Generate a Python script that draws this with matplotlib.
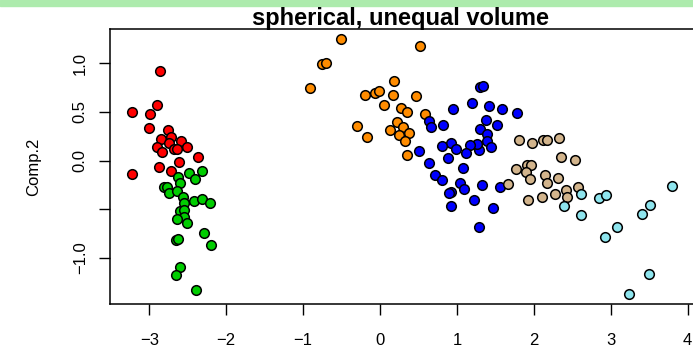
import matplotlib
matplotlib.use("Agg")
import matplotlib.pyplot as plt
from matplotlib.patches import Rectangle

plt.rcParams['font.family'] = ['Liberation Sans', 'DejaVu Sans']

# principal component scores, one pair of lists per cluster
red_x = [-2.861, -2.896, -3.229, -2.991, -3.004, -2.753, -2.722, -2.848, -2.592, -2.740,
         -2.904, -2.514, -2.679, -2.644, -2.831, -2.367, -2.618, -2.874, -2.714, -3.225]
red_y = [0.924, 0.571, 0.502, 0.478, 0.331, 0.314, 0.245, 0.221, 0.201, 0.177,
         0.142, 0.139, 0.115, 0.115, 0.084, 0.033, -0.019, -0.070, -0.108, -0.139]

green_x = [-2.631, -2.480, -2.311, -2.410, -2.597, -2.813, -2.774, -2.744, -2.644, -2.566,
           -2.545, -2.415, -2.311, -2.211, -2.601, -2.545, -2.549, -2.636, -2.514, -2.289,
           -2.653, -2.631, -2.198, -2.605, -2.653, -2.389]
green_y = [-0.167, -0.132, -0.105, -0.193, -0.231, -0.270, -0.270, -0.331, -0.314, -0.372,
           -0.440, -0.414, -0.396, -0.440, -0.516, -0.509, -0.578, -0.605, -0.646, -0.743,
           -0.818, -0.811, -0.869, -1.093, -1.178, -1.332]

orange_x = [-0.511, 0.520, -0.750, -0.706, -0.910, 0.182, -0.191, -0.061, -0.009, 0.165,
            0.464, 0.048, 0.269, 0.355, 0.585, 0.225, -0.303, 0.303, 0.130, 0.373,
            0.243, -0.173, 0.329, 0.355]
orange_y = [1.247, 1.181, 0.993, 1.000, 0.746, 0.815, 0.671, 0.698, 0.715, 0.674,
            0.660, 0.574, 0.540, 0.499, 0.478, 0.396, 0.358, 0.342, 0.311, 0.283,
            0.259, 0.245, 0.204, 0.060]

blue_x = [1.300, 1.343, 1.196, 1.414, 1.586, 1.778, 0.945, 0.641, 0.663, 0.815,
          1.382, 1.525, 1.296, 1.391, 1.391, 1.443, 1.287, 1.257, 1.166, 1.114,
          0.919, 0.810, 0.984, 0.888, 0.511, 0.641, 1.083, 0.711, 0.806, 1.040,
          1.096, 1.330, 1.557, 0.927, 0.901, 1.218, 0.927, 1.466, 1.287]
blue_y = [0.753, 0.766, 0.595, 0.564, 0.527, 0.489, 0.530, 0.409, 0.342, 0.362,
          0.414, 0.368, 0.321, 0.273, 0.204, 0.136, 0.108, 0.170, 0.156, 0.077,
          0.177, 0.152, 0.118, 0.029, 0.098, -0.026, -0.077, -0.152, -0.201, -0.235,
          -0.290, -0.249, -0.273, -0.321, -0.337, -0.409, -0.468, -0.492, -0.684]

tan_x = [1.811, 1.981, 2.124, 2.168, 2.328, 2.354, 2.536, 1.769, 1.908, 1.960,
         1.899, 1.951, 2.146, 2.168, 2.319, 1.661, 1.928, 2.111, 2.276, 2.419,
         2.436, 2.571]
tan_y = [0.208, 0.177, 0.208, 0.214, 0.235, 0.036, 0.005, -0.084, -0.049, -0.043,
         -0.118, -0.193, -0.146, -0.228, -0.183, -0.245, -0.409, -0.376, -0.342, -0.303,
         -0.379, -0.276]

cyan_x = [2.618, 2.393, 2.618, 2.848, 2.939, 2.926, 3.078, 3.403, 3.507, 3.801,
          3.498, 3.238]
cyan_y = [-0.348, -0.465, -0.564, -0.383, -0.358, -0.784, -0.687, -0.550, -0.461, -0.259,
          -1.171, -1.373]

groups = [(red_x, red_y, '#FF0000'),
          (green_x, green_y, '#00CD00'),
          (orange_x, orange_y, '#FF8C00'),
          (blue_x, blue_y, '#0000FF'),
          (tan_x, tan_y, '#D2B48C'),
          (cyan_x, cyan_y, '#8EE5EE')]

x_ticks = [-3, -2, -1, 0, 1, 2, 3, 4]
y_ticks = [-1.0, -0.5, 0.0, 0.5, 1.0]
y_tick_labels = ['\u22121.0', '', '0.0', '0.5', '1.0']


def Show():
    fig = plt.figure(figsize=(6.93, 3.5), dpi=100)
    # page header strip
    fig.patches.append(Rectangle((0, 1 - 6 / 350), 1, 6 / 350, transform=fig.transFigure,
                                 color='#ADEBAD', zorder=0))

    ax = fig.add_axes([110 / 693, 1 - 303.5 / 350, 583.75 / 693, 274.2 / 350])
    for gx, gy, col in groups:
        ax.scatter(gx, gy, s=48, c=col, edgecolors='black', linewidths=1.1, zorder=3)

    ax.set_xlim(-3.511, 4.08)
    ax.set_ylim(-1.471, 1.350)
    ax.set_xticks(x_ticks)
    ax.set_yticks(y_ticks)
    ax.set_yticklabels(y_tick_labels, rotation=90, va='center')
    ax.tick_params(axis='both', direction='out', length=8, width=1.0, labelsize=12,
                   color='black', labelcolor='black')
    ax.tick_params(axis='x', pad=13)
    ax.tick_params(axis='y', pad=8)
    for sp in ax.spines.values():
        sp.set_linewidth(1.1)
        sp.set_color('black')

    ax.set_ylabel('Comp.2', fontsize=12, labelpad=23)
    fig.text(401 / 693, 1 - 25 / 350, 'spherical, unequal volume', fontsize=17,
             fontweight='bold', ha='center', va='baseline')

    fig.savefig('out.png', dpi=100)


if __name__ == "__main__":
    Show()
